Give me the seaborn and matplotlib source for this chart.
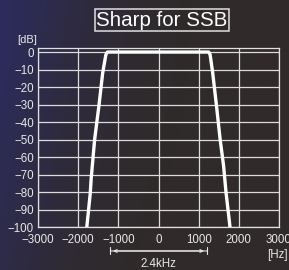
import numpy as np
import pandas as pd
import seaborn as sns
import matplotlib.pyplot as plt
from matplotlib.colors import LinearSegmentedColormap

# filter response (Hz, dB)
freq_hz = [-1785, -1700, -1675, -1590, -1485, -1390, -1310, -1270,
           1250, 1285, 1350, 1445, 1535, 1620, 1680, 1780]
level_db = [-100, -81, -72, -50, -31, -12, -1.5, 0,
            0, -1.5, -12, -31, -50, -65, -80, -100]

x_ticks = [-3000, -2000, -1000, 0, 1000, 2000, 3000]
y_ticks = [0, -10, -20, -30, -40, -50, -60, -70, -80, -90, -100]
title = "Sharp for SSB"
bw_label = "2.4kHz"
bw_edges = [-1200, 1200]

sns.set_style("white")
plt.rcParams['font.family'] = ['Liberation Sans', 'DejaVu Sans']
txt = '#e8e8e8'

fig = plt.figure(figsize=(2.89, 2.70), dpi=100)

# dark background with a bluish lower-left corner
bg = fig.add_axes([0, 0, 1, 1])
xx, yy = np.meshgrid(np.linspace(0, 1, 200), np.linspace(0, 1, 200))
mix = np.clip((1 - xx * 2.2) * 0.6 + (1 - yy) * 0.55, 0, 1) * np.clip(1 - xx * 1.5, 0, 1)
cmap = LinearSegmentedColormap.from_list('bg', ['#302a2a', '#2c2c5c'])
bg.imshow(mix, cmap=cmap, aspect='auto', origin='upper', extent=[0, 1, 0, 1])
bg.axis('off')

ax = fig.add_axes([38 / 289, 1 - 227 / 270, 241 / 289, 179 / 270])
ax.patch.set_alpha(0)

df = pd.DataFrame({'Hz': freq_hz, 'dB': level_db})
sns.lineplot(data=df, x='Hz', y='dB', sort=False, color='white', lw=2.4, ax=ax,
             solid_joinstyle='round')

ax.set_xlim(-3000, 3000)
ax.set_ylim(-100, 2.3)
ax.set_xticks(x_ticks)
ax.set_yticks(y_ticks)
ax.set_xticklabels([str(t).replace('-', '\u2212') for t in x_ticks])
ax.set_yticklabels([str(t).replace('-', '\u2212') for t in y_ticks])
ax.grid(True, color='#dcdcdc', lw=0.9)
ax.tick_params(length=0, labelsize=8.3, colors=txt)
ax.tick_params(axis='x', pad=5)
ax.tick_params(axis='y', pad=3)
ax.set_xlabel('')
ax.set_ylabel('')
for s in ax.spines.values():
    s.set_color('#e0e0e0')
    s.set_linewidth(0.9)

fig.text(27 / 289, 1 - 40 / 270, '[dB]', color=txt, fontsize=8, ha='center', va='center')
fig.text(288 / 289, 1 - 255 / 270, '[Hz]', color=txt, fontsize=8.3, ha='right', va='center')

fig.text(162 / 289, 1 - 20 / 270, title, color='white', fontsize=14.8, ha='center', va='center',
         bbox=dict(boxstyle='square,pad=0.08', fc='none', ec='#e0e0e0', lw=1.1))

# bandwidth bracket under the axis
ax.annotate('', xy=(bw_edges[0], -113.7), xytext=(bw_edges[1], -113.7),
            arrowprops=dict(arrowstyle='<->', color=txt, lw=0.8, mutation_scale=5),
            annotation_clip=False)
ax.annotate('', xy=(bw_edges[0], -113.7), xytext=(bw_edges[1], -113.7),
            arrowprops=dict(arrowstyle='|-|,widthA=0.25,widthB=0.25', color=txt, lw=0.8,
                            shrinkA=0, shrinkB=0),
            annotation_clip=False)
ax.text(0, -121, bw_label, color=txt, fontsize=8.3, ha='center', va='center', clip_on=False)

fig.savefig('out.png', dpi=100)
